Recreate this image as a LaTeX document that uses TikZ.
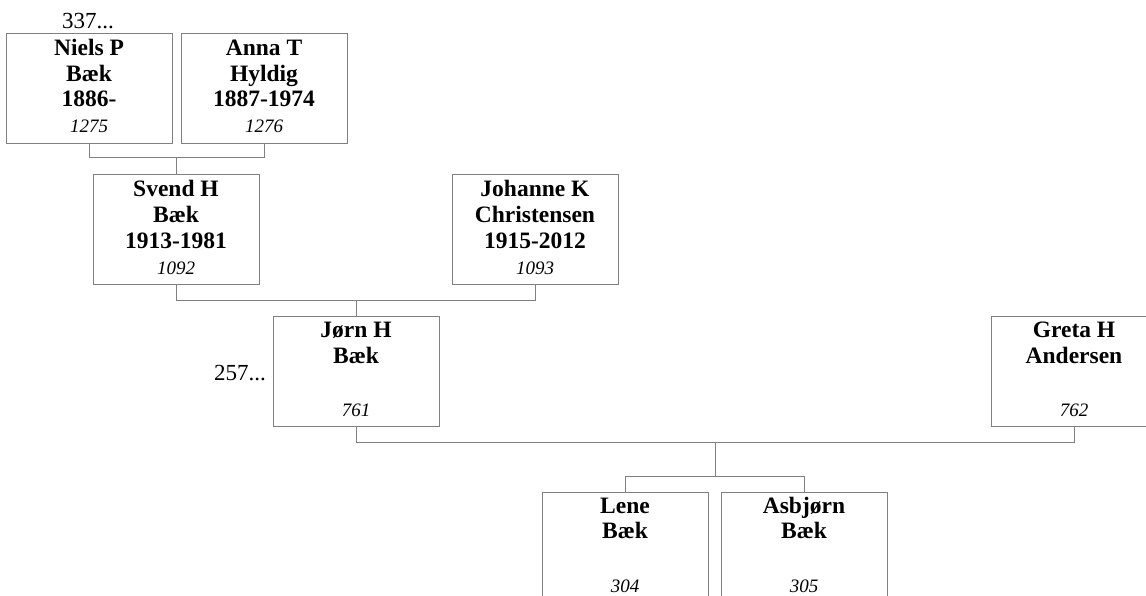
\documentclass[tikz,border=0pt]{standalone}
\usepackage{fontspec}
\setmainfont{Liberation Serif}
\definecolor{linegray}{RGB}{128,128,128}
\begin{document}
\begin{tikzpicture}[x=1pt,y=-1pt,
  pbox/.style={draw=linegray,line width=1pt,rectangle,minimum width=166pt,minimum height=110pt,inner sep=0pt},
  nm/.style={anchor=base,inner sep=0pt,font=\fontsize{23.5}{26}\selectfont\bfseries},
  num/.style={anchor=base,inner sep=0pt,font=\fontsize{19}{22}\selectfont\itshape},
  more/.style={inner sep=0pt,font=\fontsize{23}{26}\selectfont},
  conn/.style={draw=linegray,line width=1pt}]
\useasboundingbox (0,0) rectangle (1146,596);
\clip (0,0) rectangle (1146,596);
% boxes
\node[pbox] (niels) at (89.5,88.5) {};
\node[pbox] (anna) at (264.5,88.5) {};
\node[pbox] (svend) at (176.5,229.5) {};
\node[pbox] (johanne) at (535.5,229.5) {};
\node[pbox] (jorn) at (356.5,371.5) {};
\node[pbox] (greta) at (1074.5,371.5) {};
\node[pbox] (lene) at (625.5,547.5) {};
\node[pbox] (asbjorn) at (804.5,547.5) {};
% texts
\node[nm] (niels1) at (89,56) {Niels P};
\node[nm] (niels2) at (89,81.5) {Bæk};
\node[nm] (niels3) at (89,107) {1886-};
\node[num] (nielsn) at (89,133) {1275};
\node[nm] (anna1) at (264,56) {Anna T};
\node[nm] (anna2) at (264,81.5) {Hyldig};
\node[nm] (anna3) at (264,107) {1887-1974};
\node[num] (annan) at (264,133) {1276};
\node[nm] (svend1) at (176,197) {Svend H};
\node[nm] (svend2) at (176,222.5) {Bæk};
\node[nm] (svend3) at (176,248) {1913-1981};
\node[num] (svendn) at (176,274) {1092};
\node[nm] (johanne1) at (535,197) {Johanne K};
\node[nm] (johanne2) at (535,222.5) {Christensen};
\node[nm] (johanne3) at (535,248) {1915-2012};
\node[num] (johannen) at (535,274) {1093};
\node[nm] (jorn1) at (356,337.5) {Jørn H};
\node[nm] (jorn2) at (356,363) {Bæk};
\node[num] (jornn) at (356,416.5) {761};
\node[nm] (greta1) at (1074,337.5) {Greta H};
\node[nm] (greta2) at (1074,363) {Andersen};
\node[num] (getan) at (1074,416.5) {762};
\node[nm] (lene1) at (625,513) {Lene};
\node[nm] (lene2) at (625,538.5) {Bæk};
\node[num] (lenen) at (625,592.5) {304};
\node[nm] (asbjorn1) at (804,513) {Asbjørn};
\node[nm] (asbjorn2) at (804,538.5) {Bæk};
\node[num] (asbjornn) at (804,592.5) {305};
% continuation markers
\node[more,anchor=base] (more337) at (88,28.5) {337...};
\node[more,anchor=base east] (more257) at (266,380) {257...};
% connectors
\coordinate (c1) at (176.5,157.5);
\coordinate (c2) at (356.5,300.5);
\coordinate (c3) at (715.5,442.5);
\coordinate (c4) at (715.5,476.5);
\draw[conn] (niels.south) |- (c1) -| (anna.south);
\draw[conn] (c1) -- (svend.north);
\draw[conn] (svend.south) |- (c2) -| (johanne.south);
\draw[conn] (c2) -- (jorn.north);
\draw[conn] (jorn.south) |- (c3) -| (greta.south);
\draw[conn] (c3) -- (c4);
\draw[conn] (lene.north) |- (c4) -| (asbjorn.north);
\end{tikzpicture}
\end{document}
